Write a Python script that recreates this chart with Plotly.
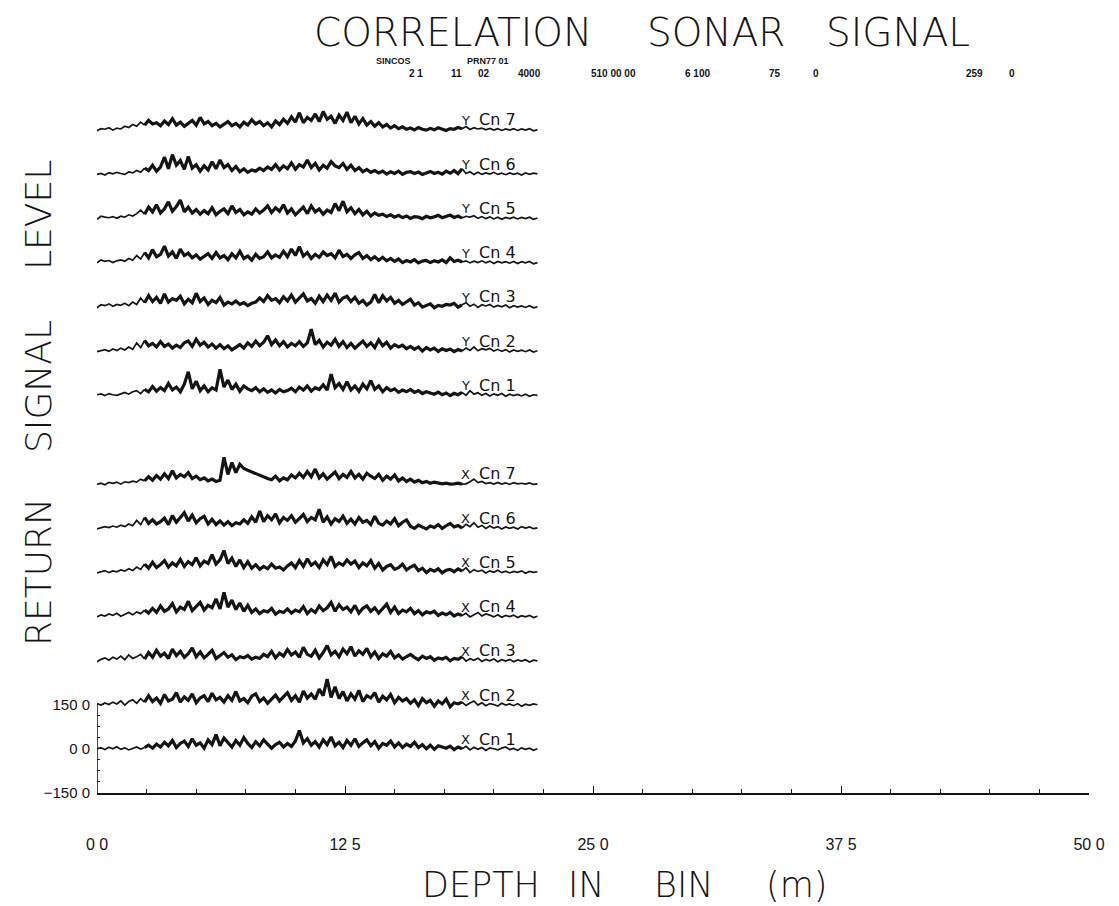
import plotly.graph_objects as go

# ---------------- data ----------------
DEPTH_STEP = 0.2  # m between samples, 112 samples -> 0 .. 22.2 m

X_CN1 = [0, 4, -3, 5, 0, 7, -2, 3, -4, 2, 6, -1, 4, 12, 2, 16,
         6, 22, 10, 28, 4, 18, 26, 8, 34, 12, 20, 2, 30, 14, 48, 10,
         36, 20, 6, 28, 12, 38, 18, 4, 24, 10, 30, 16, 2, 14, 22, 6,
         18, 8, 26, 62, 20, 34, 12, 24, 6, 30, 14, 40, 10, 22, 4, 28,
         12, 34, 8, 20, 30, 10, 24, 2, 18, 12, 26, 6, 20, 4, 16, 8,
         22, 4, 14, 0, 12, -2, 10, 6, 2, 9, -3, 6, 0, 8, -4, 5,
         -2, 4, -6, 3, 0, -4, 2, 6, -3, 1, -5, 3, -2, 2, -5, 0]
X_CN2 = [3, -2, 5, 0, 8, 2, 12, -2, 10, 16, 4, 20, 8, 30, 10, 22,
         4, 34, 12, 18, 40, 8, 26, 14, 36, 6, 22, 30, 10, 38, 16, 24,
         8, 30, 14, 44, 12, 20, 6, 28, 36, 10, 22, 4, 18, 32, 12, 26,
         40, 14, 30, 8, 46, 22, 36, 18, 52, 30, 86, 24, 60, 20, 44, 12,
         36, 18, 48, 10, 30, 22, 40, 8, 28, 16, 34, 6, 24, 12, 20, 4,
         16, -4, 20, 6, 14, -6, 12, 2, 18, -8, 6, 2, 8, -3, 5, 12,
         -2, 6, -4, 3, 0, -5, 4, -2, 2, -4, 3, -6, 1, -3, 2, -1]
X_CN3 = [-5, 3, 8, 0, 10, 4, 14, 2, 18, 6, 12, 20, 4, 26, 10, 34,
         14, 24, 6, 38, 16, 30, 10, 22, 42, 12, 28, 8, 20, 34, 6, 16,
         26, 10, 18, 2, 12, 8, 16, 4, 10, 6, 20, 12, 30, 8, 24, 14,
         36, 18, 28, 10, 44, 20, 14, 34, 8, 26, 50, 18, 30, 12, 38, 22,
         46, 14, 32, 20, 40, 12, 28, 6, 22, 14, 30, 8, 18, 4, 12, 20,
         10, 2, 14, 6, 12, 0, 8, 4, 10, -2, 6, 3, 12, -3, 5, 0,
         7, -4, 3, -2, 4, -5, 2, -3, 3, -5, 1, -3, 2, -6, 0, -2]
X_CN4 = [-3, 4, 0, 7, 2, 9, -1, 6, 12, 4, 14, 8, 20, 10, 26, 12,
         34, 16, 24, 42, 14, 30, 22, 50, 18, 34, 46, 20, 36, 28, 58, 24,
         80, 30, 54, 22, 44, 16, 36, 12, 24, 8, 18, 14, 26, 6, 16, 12,
         24, 10, 20, 14, 32, 8, 22, 12, 34, 18, 28, 46, 16, 38, 22, 30,
         14, 36, 10, 26, 34, 16, 28, 10, 24, 40, 12, 30, 8, 20, 14, 26,
         8, 18, 4, 14, 10, 16, 2, 10, 4, 12, 0, 7, 2, 9, -3, 5,
         12, 0, 7, 3, -3, 4, -4, 2, -2, 3, -5, 1, -3, 2, -5, -1]
X_CN5 = [-4, 0, 4, -3, 3, 0, 6, 2, 10, 4, 16, 8, 26, 12, 32, 14,
         24, 38, 16, 30, 20, 42, 18, 34, 24, 48, 20, 36, 28, 58, 26, 40,
         72, 28, 46, 18, 40, 14, 34, 12, 24, 8, 18, 10, 26, 12, 16, 6,
         20, 30, 14, 38, 18, 44, 22, 32, 14, 40, 24, 52, 18, 30, 22, 40,
         26, 36, 14, 30, 20, 38, 12, 28, 6, 18, 24, 8, 14, 26, 6, 16,
         22, 4, 12, -3, 8, 2, 10, -4, 5, 8, 0, 10, 2, 14, -3, 7,
         1, 5, -4, 3, -2, 5, -3, 2, -4, 1, -2, 3, -5, 1, -2, 0]
X_CN6 = [-5, -2, 3, 0, 5, 1, 8, 3, 12, 6, 24, 10, 34, 14, 26, 12,
         20, 32, 10, 40, 18, 34, 50, 22, 42, 16, 30, 38, 12, 28, 10, 22,
         8, 20, 6, 16, 12, 26, 14, 36, 18, 56, 20, 40, 26, 46, 16, 34,
         24, 40, 18, 30, 44, 20, 34, 26, 62, 18, 36, 12, 30, 20, 38, 14,
         28, 12, 34, 18, 24, 10, 38, 14, 8, 22, 12, 30, 6, 18, 26, 4,
         -3, 8, 2, -5, 5, 0, 10, -3, 6, 14, 2, 7, -2, 11, 3, 16,
         1, 7, -3, 5, -2, 3, -5, 2, -3, 1, -5, 3, -2, 2, -4, -1]
X_CN7 = [-4, 0, -5, 3, 0, 4, -3, 5, 2, 7, 4, 14, 8, 22, 10, 26,
         14, 32, 16, 42, 18, 30, 22, 36, 16, 24, 12, 18, 8, 14, 6, 10,
         88, 30, 70, 36, 64, 50, 44, 38, 32, 26, 22, 16, 12, 24, 8, 18,
         12, 28, 18, 34, 20, 40, 22, 48, 18, 32, 14, 26, 38, 16, 30, 20,
         40, 18, 30, 14, 34, 24, 16, 30, 10, 24, 14, 28, 8, 18, 6, 14,
         4, 10, 2, 6, 0, 4, 2, -2, 0, -3, -2, 0, -3, -2, 5, 14,
         2, 6, -1, 2, -3, 3, -3, 1, -4, 2, -2, 0, -3, 1, -4, -2]

Y_CN1 = [0, 3, -3, 4, 0, -2, 3, 8, 2, 10, 14, 4, 18, 10, 28, 12,
         24, 14, 38, 16, 26, 10, 36, 78, 20, 46, 14, 30, 10, 24, 16, 86,
         26, 50, 18, 36, 12, 30, 20, 14, 24, 10, 20, 8, 16, 6, 18, 10,
         14, 22, 10, 26, 16, 30, 12, 24, 18, 34, 16, 70, 24, 38, 18, 44,
         16, 30, 12, 36, 20, 48, 18, 30, 10, 24, 14, 20, 8, 16, 10, 18,
         8, 14, 4, 10, 6, 2, 9, 0, 6, -3, 5, 0, 8, -2, 14, 2,
         7, -2, 4, -4, 3, -2, 4, -5, 2, -3, 1, -4, 2, -5, 0, -2]
Y_CN2 = [-4, 0, 3, -3, 5, 0, 8, 2, 12, 4, 26, 10, 34, 16, 24, 12,
         30, 14, 22, 8, 18, 10, 26, 32, 14, 38, 18, 28, 12, 22, 8, 20,
         6, 16, 2, 12, 20, 8, 26, 14, 32, 16, 28, 50, 20, 36, 16, 30,
         12, 24, 16, 30, 14, 26, 72, 20, 34, 12, 28, 18, 38, 14, 30, 10,
         24, 8, 20, 32, 14, 26, 10, 36, 16, 28, 8, 20, 12, 18, 6, 14,
         4, 12, -2, 10, 2, 8, -3, 6, 0, 5, -4, 3, -2, 8, 0, 12,
         -1, 6, 2, 7, -2, 4, -3, 3, -5, 2, -3, 1, -4, 2, -5, -1]
Y_CN3 = [-5, 5, 2, 8, 0, 6, 3, 10, 2, 14, 6, 28, 12, 36, 16, 30,
         10, 42, 14, 26, 20, 34, 8, 24, 12, 44, 16, 28, 6, 20, 12, 30,
         4, 14, 8, 18, 6, 12, 2, 10, 14, 28, 16, 36, 20, 26, 12, 32,
         18, 38, 14, 30, 42, 18, 26, 10, 34, 16, 38, 20, 44, 14, 28, 34,
         16, 30, 10, 20, 4, 14, 40, 12, 36, 18, 30, 10, 20, 6, 14, 24,
         4, 12, -3, 2, 8, -5, 3, 0, 6, 4, 10, -3, 5, 12, 0, 7,
         -4, 5, 1, 6, -3, 3, -2, 4, -5, 2, -3, 1, -4, 2, -5, -2]
Y_CN4 = [-3, 7, 2, 5, -2, 4, 7, 2, 12, 6, 22, 10, 32, 14, 42, 18,
         26, 54, 20, 34, 12, 44, 22, 30, 14, 24, 10, 20, 28, 12, 32, 14,
         22, 8, 28, 14, 36, 12, 20, 6, 26, 12, 18, 34, 14, 24, 16, 36,
         18, 44, 22, 52, 20, 32, 12, 26, 16, 34, 22, 28, 14, 40, 18, 26,
         12, 24, 32, 12, 22, 8, 18, 6, 16, 4, 12, 2, 10, -2, 5, 0,
         8, -3, 3, 5, -2, 4, 0, 7, -2, 14, 2, 6, 0, 4, -3, 3,
         -2, 4, -3, 3, -5, 2, -3, 1, -4, 2, -5, 1, -3, 2, -6, -2]
Y_CN5 = [-5, 5, 2, 0, 4, -2, 5, 2, 10, 6, 14, 26, 12, 36, 20, 44,
         16, 30, 54, 22, 38, 60, 20, 36, 16, 28, 12, 24, 14, 34, 10, 22,
         30, 14, 40, 18, 28, 10, 20, 12, 30, 16, 26, 40, 18, 34, 22, 44,
         16, 30, 10, 22, 36, 14, 40, 20, 30, 12, 26, 18, 48, 24, 56, 20,
         34, 14, 28, 10, 22, 6, 16, 8, 12, 4, 10, 2, 8, 0, 6, -2,
         4, 2, -3, 5, 0, 3, 8, 0, 4, 9, 1, 6, -1, 5, 2, 7,
         -2, 4, -3, 3, -4, 2, -5, 1, -3, 2, -4, 1, -3, 2, -5, -1]
Y_CN6 = [-3, 0, -5, 3, -1, 4, 0, -3, 5, 2, 10, 4, 18, 10, 28, 8,
         22, 56, 16, 64, 28, 44, 14, 58, 18, 30, 8, 26, 12, 40, 16, 46,
         20, 30, 10, 24, 6, 16, 4, 12, 8, 18, 10, 22, 14, 30, 12, 26,
         16, 36, 14, 30, 22, 46, 20, 34, 12, 28, 18, 40, 26, 20, 34, 14,
         28, 10, 20, 6, 14, 4, 10, 2, 8, -2, 6, 0, 8, -3, 4, 6,
         0, 5, -3, 3, 7, 0, 4, -2, 8, 1, 10, -1, 16, 0, 6, -3,
         4, -3, 2, -2, 4, -3, 1, -4, 2, -3, 1, -5, 2, -3, 1, -1]
Y_CN7 = [-5, 2, 0, 5, -3, 4, 1, 10, 6, 16, 10, 24, 14, 30, 18, 22,
         12, 28, 16, 36, 14, 24, 10, 20, 30, 14, 40, 18, 26, 12, 20, 8,
         16, 26, 12, 20, 8, 24, 14, 32, 18, 26, 12, 22, 8, 28, 16, 34,
         20, 42, 24, 56, 22, 40, 30, 52, 26, 60, 34, 44, 20, 48, 30, 58,
         22, 44, 18, 36, 14, 26, 10, 22, 8, 16, 4, 12, 2, 8, 0, 4,
         -2, 6, 0, -3, 3, -2, 5, 0, -4, 2, 0, 6, 2, 9, -1, 5,
         1, 4, -2, 3, -3, 2, -4, 1, -3, 2, -4, 1, -3, 2, -5, -2]

X_CHANNELS = [X_CN1, X_CN2, X_CN3, X_CN4, X_CN5, X_CN6, X_CN7]
Y_CHANNELS = [Y_CN1, Y_CN2, Y_CN3, Y_CN4, Y_CN5, Y_CN6, Y_CN7]

X_TICKS = [0, 12.5, 25, 37.5, 50]
X_TICKTEXT = ["0 0", "12 5", "25 0", "37 5", "50 0"]
Y_TICKS = [-150, 0, 150]
Y_TICKTEXT = ["\u2212150 0", "0 0", "150 0"]

TITLE_WORDS = ["CORRELATION", "SONAR", "SIGNAL"]
XTITLE_WORDS = ["DEPTH", "IN", "BIN", "(m)"]
YTITLE_WORDS = ["RETURN", "SIGNAL", "LEVEL"]
HEADER_ROW1 = ["SINCOS", "PRN77 01"]
HEADER_ROW2 = ["2 1", "11", "02", "4000", "510 00 00", "6 100", "75", "0", "259", "0"]

# ---------------- layout geometry ----------------
W, H = 1119, 906
PL, PR, PT, PB = 97, 1089, 85, 793     # plot area in pixels
CH_STEP = 150                           # vertical offset between channels
INK = "#141414"
ACTIVE = (12, 92)                       # sample span drawn with the heavy pen


def px(xp):
    return (xp - PL) / (PR - PL)


def py(yp):
    return (PB - yp) / (PB - PT)


fig = go.Figure()

traces = []
for k, vals in enumerate(X_CHANNELS):
    traces.append(("X", k + 1, k * CH_STEP, vals))
for k, vals in enumerate(Y_CHANNELS):
    traces.append(("Y", k + 1, (k + 8) * CH_STEP, vals))

annotations = []
for grp, num, off, vals in traces:
    depth = [i * DEPTH_STEP for i in range(len(vals))]
    yv = [v + off for v in vals]
    a, b = ACTIVE
    for lo, hi, wd in [(0, a + 1, 1.7), (a, b + 1, 3.2), (b, len(vals), 1.7)]:
        fig.add_trace(go.Scatter(
            x=depth[lo:hi], y=yv[lo:hi], mode="lines",
            line=dict(color=INK, width=wd), hoverinfo="skip"))
    annotations.append(dict(
        x=18.25, y=off + 30, xref="x", yref="y", text=grp,
        showarrow=False, xanchor="left", yanchor="middle",
        font=dict(family="DejaVu Sans", size=13, color=INK)))
    annotations.append(dict(
        x=19.15, y=off + 32, xref="x", yref="y", text=f"Cn {num}",
        showarrow=False, xanchor="left", yanchor="middle",
        font=dict(family="DejaVu Sans", size=16, color=INK)))

# title words
for word, cx in zip(TITLE_WORDS, [453, 716, 898]):
    annotations.append(dict(
        x=px(cx), y=py(32), xref="paper", yref="paper", text=word,
        showarrow=False, xanchor="center", yanchor="middle", borderpad=0,
        font=dict(family="DejaVu Sans", size=39, color=INK, weight=200)))

# x-axis title words
for word, cx in zip(XTITLE_WORDS, [481, 586, 683, 796]):
    annotations.append(dict(
        x=px(cx), y=py(885), xref="paper", yref="paper", text=word,
        showarrow=False, xanchor="center", yanchor="middle",
        font=dict(family="DejaVu Sans", size=35, color=INK, weight=200)))

# y-axis title words
for word, cy in zip(YTITLE_WORDS, [572, 387, 215]):
    annotations.append(dict(
        x=px(38), y=py(cy), xref="paper", yref="paper", text=word,
        showarrow=False, xanchor="center", yanchor="middle", textangle=-90,
        font=dict(family="DejaVu Sans", size=36, color=INK, weight=200)))

# header info lines
for txt, lx in zip(HEADER_ROW1, [375, 466]):
    annotations.append(dict(
        x=px(lx), y=py(61), xref="paper", yref="paper", text=f"<b>{txt}</b>",
        showarrow=False, xanchor="left", yanchor="middle", borderpad=0,
        font=dict(family="Liberation Sans", size=9, color=INK)))
for txt, lx in zip(HEADER_ROW2, [408, 450, 477, 517, 590, 684, 768, 812, 965, 1008]):
    annotations.append(dict(
        x=px(lx), y=py(74), xref="paper", yref="paper", text=f"<b>{txt}</b>",
        showarrow=False, xanchor="left", yanchor="middle", borderpad=0,
        font=dict(family="Liberation Sans", size=10, color=INK)))

fig.update_layout(
    width=W, height=H,
    margin=dict(l=PL, r=W - PR, t=PT, b=H - PB, pad=0),
    paper_bgcolor="white", plot_bgcolor="white",
    showlegend=False,
    annotations=annotations,
    shapes=[dict(type="line", xref="x", yref="y", x0=0, x1=0, y0=-150, y1=150,
                 line=dict(color=INK, width=1.6))],
    xaxis=dict(range=[0, 50], showgrid=False, zeroline=False,
               showline=True, linecolor=INK, linewidth=1.6,
               tickvals=X_TICKS, ticktext=X_TICKTEXT,
               ticks="inside", ticklen=7, tickwidth=1.3, tickcolor=INK,
               minor=dict(tickvals=[2.5 * i for i in range(1, 20) if i % 5],
                          ticks="inside", ticklen=4, tickwidth=1, tickcolor=INK),
               tickfont=dict(family="Liberation Sans", size=16, color=INK),
               ticklabelstandoff=36),
    yaxis=dict(range=[-150, 2250], showgrid=False, zeroline=False,
               showline=False,
               tickvals=Y_TICKS, ticktext=Y_TICKTEXT,
               ticks="inside", ticklen=7, tickwidth=1.3, tickcolor=INK,
               minor=dict(tickvals=[-112.5, -75, -37.5, 37.5, 75, 112.5],
                          ticks="inside", ticklen=3, tickwidth=1, tickcolor=INK),
               tickfont=dict(family="Liberation Sans", size=15, color=INK),
               ticklabelstandoff=6),
)

fig.write_html("out.html")
